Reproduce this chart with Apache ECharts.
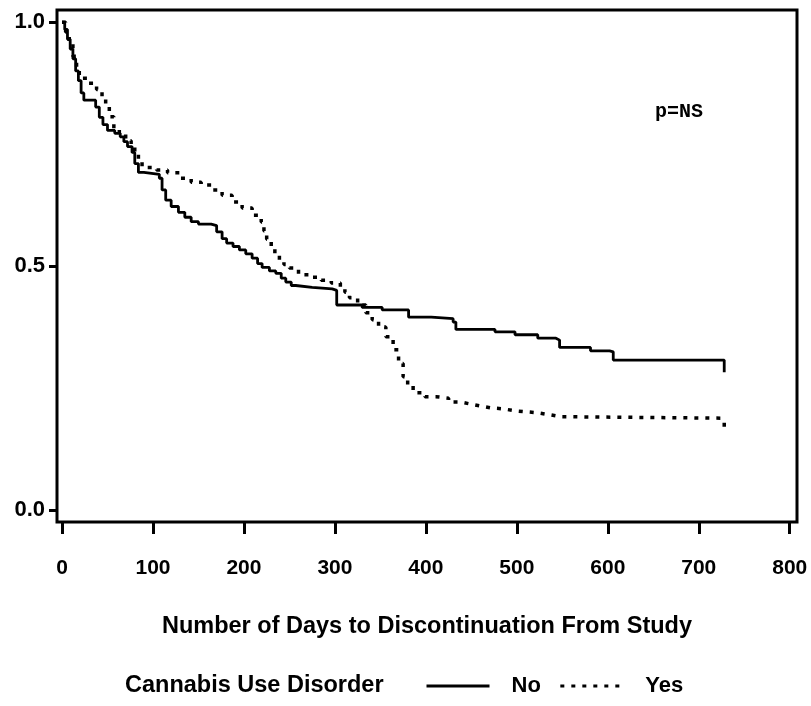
<!DOCTYPE html>
<html>
<head>
<meta charset="utf-8">
<title>Days to Discontinuation</title>
<script src="https://cdn.jsdelivr.net/npm/echarts@6/dist/echarts.min.js"></script>
<style>
    html, body { margin: 0; padding: 0; background: #fff; }
    #chart { width: 811px; height: 706px; }
</style>
</head>
<body>
<div id="chart"></div>
<script>
    // tick values for both axes
    var xTicks = [0, 100, 200, 300, 400, 500, 600, 700, 800];
    var yTicks = [0, 0.5, 1.0];

    // survival steps [day, proportion remaining]
    var noCud = [
        [0, 1.0], [3, 0.985], [6, 0.965], [9, 0.945], [12, 0.925], [15, 0.9], [18, 0.88],
        [21, 0.855], [24, 0.84], [37, 0.826], [41, 0.805], [45, 0.79], [50, 0.778],
        [58, 0.772], [64, 0.765], [68, 0.755], [72, 0.745], [77, 0.733], [80, 0.71],
        [84, 0.692], [90, 0.688], [107, 0.68], [110, 0.656], [114, 0.635], [120, 0.622],
        [128, 0.61], [135, 0.6], [142, 0.591], [150, 0.586], [164, 0.583], [170, 0.57],
        [176, 0.556], [181, 0.547], [188, 0.54], [195, 0.533], [202, 0.525], [209, 0.516],
        [215, 0.505], [220, 0.497], [228, 0.49], [235, 0.485], [241, 0.475], [246, 0.467],
        [252, 0.46], [257, 0.456], [275, 0.453], [297, 0.45], [302, 0.42], [330, 0.415],
        [352, 0.41], [381, 0.395], [406, 0.392], [430, 0.385], [433, 0.37], [476, 0.365],
        [498, 0.359], [523, 0.352], [543, 0.348], [547, 0.333], [581, 0.326], [602, 0.324],
        [606, 0.307], [728, 0.282]
    ];
    var yesCud = [
        [0, 1.0], [4, 0.98], [8, 0.955], [12, 0.93], [16, 0.905], [19, 0.885], [28, 0.875],
        [38, 0.862], [44, 0.845], [48, 0.83], [52, 0.806], [57, 0.78], [63, 0.77],
        [70, 0.757], [76, 0.744], [80, 0.73], [84, 0.718], [88, 0.702], [104, 0.697],
        [116, 0.691], [129, 0.68], [142, 0.672], [153, 0.666], [165, 0.656], [176, 0.645],
        [187, 0.631], [198, 0.619], [209, 0.604], [219, 0.59], [222, 0.572], [225, 0.555],
        [230, 0.537], [234, 0.524], [239, 0.512], [244, 0.503], [250, 0.496], [260, 0.482],
        [271, 0.477], [285, 0.471], [296, 0.465], [306, 0.457], [311, 0.446], [316, 0.435],
        [325, 0.42], [334, 0.404], [341, 0.39], [348, 0.375], [356, 0.355], [364, 0.328],
        [370, 0.3], [375, 0.273], [380, 0.255], [386, 0.24], [399, 0.232], [411, 0.229],
        [425, 0.221], [438, 0.217], [449, 0.213], [460, 0.209], [472, 0.207], [485, 0.203],
        [498, 0.201], [510, 0.199], [523, 0.195], [536, 0.191], [548, 0.188], [724, 0.184],
        [728, 0.156]
    ];

    var FONT = "'Liberation Sans', Arial, sans-serif";

    /**
     * one step curve per group
     */
    function stepSeries(name, data, dash, width) {
        return {
            name: name,
            type: 'line',
            step: 'end',
            data: data,
            showSymbol: false,
            symbol: 'none',
            itemStyle: {color: '#000'},
            lineStyle: {color: '#000', width: width, type: dash, cap: 'butt'}
        };
    }

    function buildOption() {
        return {
            animation: false,
            backgroundColor: '#fff',
            textStyle: {fontFamily: FONT, color: '#000'},
            grid: {
                left: 57, right: 14, top: 10, bottom: 184,
                show: true, borderColor: '#000', borderWidth: 3
            },
            xAxis: {
                type: 'value',
                min: -5.5, max: 808,
                name: 'Number of Days to Discontinuation From Study',
                nameLocation: 'middle',
                nameGap: 93,
                nameTextStyle: {fontFamily: FONT, fontWeight: 'bold', fontSize: 23.5, color: '#000'},
                axisLine: {show: false, onZero: false},
                splitLine: {show: false},
                axisTick: {show: true, length: 12, customValues: xTicks, lineStyle: {color: '#000', width: 3}},
                axisLabel: {
                    customValues: xTicks, margin: 36,
                    fontFamily: FONT, fontWeight: 'bold', fontSize: 21, color: '#000'
                }
            },
            yAxis: {
                type: 'value',
                min: -0.025, max: 1.025,
                axisLine: {show: false, onZero: false},
                splitLine: {show: false},
                axisTick: {show: true, length: 8, customValues: yTicks, lineStyle: {color: '#000', width: 3}},
                axisLabel: {
                    customValues: yTicks, margin: 12,
                    fontFamily: FONT, fontWeight: 'bold', fontSize: 22, color: '#000',
                    formatter: function (v) { return v.toFixed(1); }
                }
            },
            legend: {
                left: 420, top: 670,
                itemWidth: 63, itemHeight: 14, itemGap: 18,
                itemStyle: {opacity: 0},
                lineStyle: {width: 3},
                data: ['No', 'Yes'],
                textStyle: {fontFamily: FONT, fontWeight: 'bold', fontSize: 22, color: '#000', padding: [0, 0, 0, 17]}
            },
            graphic: [
                {
                    type: 'text', left: 125, top: 674,
                    style: {text: 'Cannabis Use Disorder', font: 'bold 23.5px ' + FONT, fill: '#000'}
                },
                {
                    type: 'text', left: 655, top: 102,
                    style: {text: 'p=NS', font: 'bold 20px \'Liberation Mono\', monospace', fill: '#000'}
                }
            ],
            series: [
                stepSeries('No', noCud, 'solid', 2.8),
                stepSeries('Yes', yesCud, [4, 7], 3.5)
            ]
        };
    }

    var chart = echarts.init(document.getElementById('chart'));
    chart.setOption(buildOption());
</script>
</body>
</html>
